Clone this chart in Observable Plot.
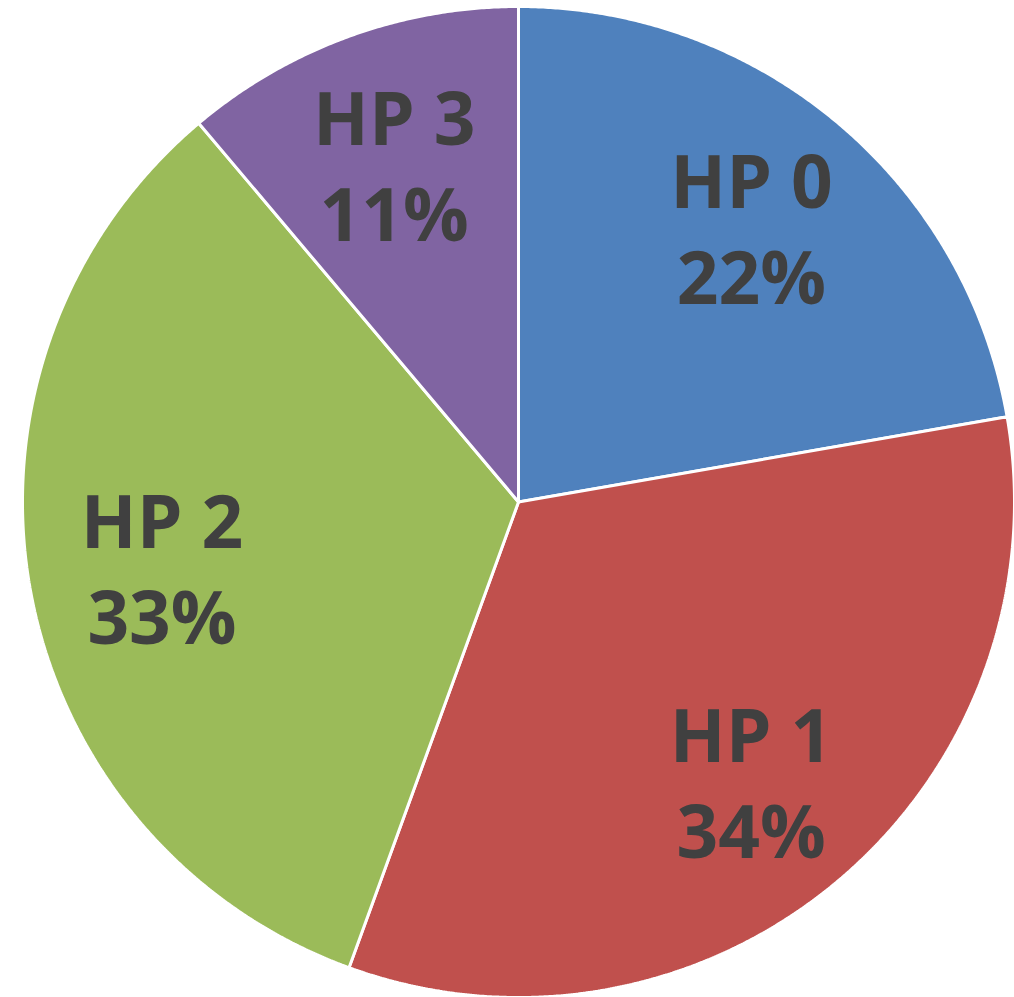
<!DOCTYPE html>
<html>
<head>
<meta charset="utf-8">
<script src="https://cdn.jsdelivr.net/npm/d3@7"></script>
<script src="https://cdn.jsdelivr.net/npm/@observablehq/plot@0.6"></script>
<style>
  html, body { margin: 0; padding: 0; background: #fff; }
  svg { overflow: visible; display: block; }
</style>
</head>
<body>
<div id="chart"></div>
<script>
const categories = ["HP 0", "HP 1", "HP 2", "HP 3"];
const values = [22.25, 33.3, 33.3, 11.15];
const percentLabels = ["22%", "34%", "33%", "11%"];
const colors = ["#4F81BD", "#C0504D", "#9BBB59", "#8064A2"];

const pie = d3.pie().sort(null).value(d => d)(values);

// polygon vertices for each slice (unit circle, angle 0 = top, clockwise)
const slicePts = [];
pie.forEach((p, i) => {
  const n = Math.max(2, Math.ceil((p.endAngle - p.startAngle) / 0.005));
  slicePts.push({cat: categories[i], x: 0, y: 0});
  for (let k = 0; k <= n; k++) {
    const a = p.startAngle + (p.endAngle - p.startAngle) * k / n;
    slicePts.push({cat: categories[i], x: Math.sin(a), y: Math.cos(a)});
  }
  slicePts.push({cat: categories[i], x: 0, y: 0});
});

const labelR = 0.73;
const labels = pie.map((p, i) => {
  const a = (p.startAngle + p.endAngle) / 2;
  return {
    cat: categories[i],
    x: labelR * Math.sin(a),
    y: labelR * Math.cos(a),
    text: categories[i] + "\n" + percentLabels[i]
  };
});

const chart = Plot.plot({
  width: 1014,
  height: 997,
  marginLeft: 22,
  marginRight: 0,
  marginTop: 6,
  marginBottom: 0,
  x: {domain: [-1, 1], axis: null},
  y: {domain: [-1, 1], axis: null},
  color: {domain: categories, range: colors},
  marks: [
    Plot.line(slicePts, {x: "x", y: "y", z: "cat", fill: "cat", stroke: "white", strokeWidth: 3, strokeLinejoin: "miter", strokeMiterlimit: 1, curve: "linear"}),
    Plot.text(labels, {x: "x", y: "y", text: "text", fill: "#404040", fontSize: 73, fontWeight: "bold", fontFamily: "Open Sans", lineHeight: 1.32, textAnchor: "middle"})
  ]
});
document.getElementById("chart").appendChild(chart);
</script>
</body>
</html>
